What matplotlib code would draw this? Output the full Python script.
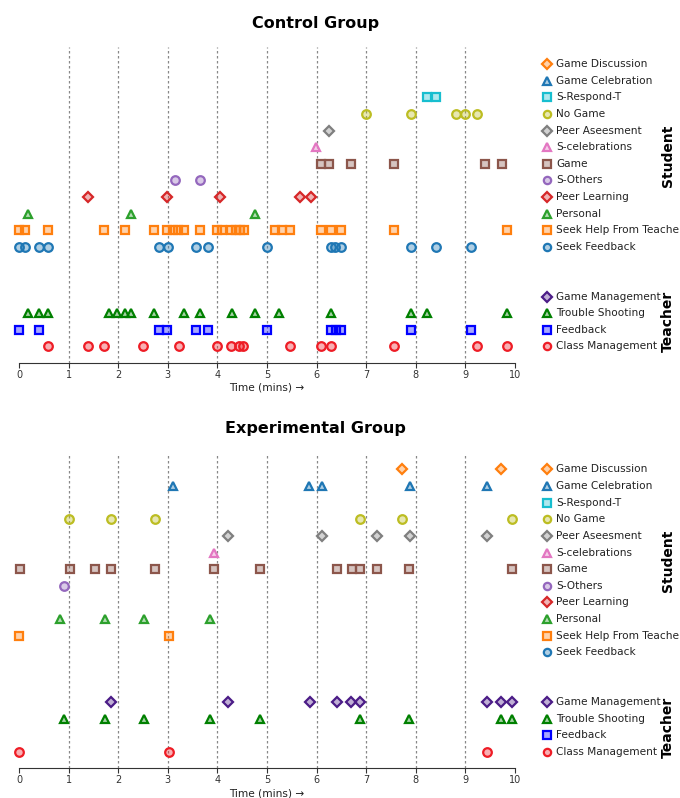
import matplotlib
matplotlib.use("Agg")
import matplotlib.pyplot as plt
import matplotlib.colors as mcolors
from matplotlib.transforms import blended_transform_factory

# ---------------- data (times in minutes) ----------------
student_categories = ["Game Discussion", "Game Celebration", "S-Respond-T", "No Game",
                      "Peer Aseesment", "S-celebrations", "Game", "S-Others",
                      "Peer Learning", "Personal", "Seek Help From Teacher", "Seek Feedback"]
teacher_categories = ["Game Management", "Trouble Shooting", "Feedback", "Class Management"]

# Control group - student
ctrl_game_discussion = []
ctrl_game_celebration = []
ctrl_s_respond_t = [8.22, 8.41]
ctrl_no_game = [6.99, 7.90, 8.82, 8.99, 9.23]
ctrl_peer_assessment = [6.26]
ctrl_s_celebrations = [5.99]
ctrl_game = [6.08, 6.25, 6.69, 7.57, 9.40, 9.73]
ctrl_s_others = [3.15, 3.65]
ctrl_peer_learning = [1.40, 2.98, 4.06, 5.66, 5.89]
ctrl_personal = [0.19, 2.25, 4.76]
ctrl_seek_help = [0.0, 0.13, 0.58, 1.71, 2.14, 2.73, 2.98, 3.10, 3.21, 3.33, 3.65,
                  3.99, 4.09, 4.27, 4.37, 4.46, 4.54, 5.17, 5.30, 5.46, 6.09, 6.30,
                  6.49, 7.57, 9.84]
ctrl_seek_feedback = [0.0, 0.12, 0.41, 0.58, 2.82, 3.00, 3.57, 3.82, 4.99, 6.29, 6.38,
                      6.49, 7.90, 8.40, 9.12]
# Control group - teacher
ctrl_game_management = []
ctrl_trouble_shooting = [0.19, 0.41, 0.58, 1.81, 1.98, 2.14, 2.26, 2.73, 3.32, 3.65,
                         4.29, 4.76, 5.24, 6.30, 7.91, 8.23, 9.84]
ctrl_feedback = [0.0, 0.40, 2.82, 2.99, 3.57, 3.82, 4.99, 6.29, 6.39, 6.49, 7.91, 9.12]
ctrl_class_management = [0.58, 1.40, 1.71, 2.49, 3.23, 3.99, 4.28, 4.43, 4.52, 5.46,
                         6.09, 6.30, 7.57, 9.24, 9.84]

# Experimental group - student
exp_game_discussion = [7.72, 9.72]
exp_game_celebration = [3.10, 5.85, 6.10, 7.88, 9.44]
exp_s_respond_t = []
exp_no_game = [1.01, 1.85, 2.74, 6.88, 7.72, 9.94]
exp_peer_assessment = [4.21, 6.10, 7.22, 7.88, 9.44]
exp_s_celebrations = [3.93]
exp_game = [0.03, 1.02, 1.54, 1.85, 2.74, 3.94, 4.86, 6.42, 6.71, 6.88, 7.22, 7.87, 9.93]
exp_s_others = [0.91]
exp_peer_learning = []
exp_personal = [0.82, 1.73, 2.52, 3.85]
exp_seek_help = [0.0, 3.02]
exp_seek_feedback = []
# Experimental group - teacher
exp_game_management = [1.86, 4.21, 5.86, 6.42, 6.69, 6.88, 9.44, 9.72, 9.94]
exp_trouble_shooting = [0.91, 1.73, 2.52, 3.85, 4.85, 6.88, 7.87, 9.72, 9.94]
exp_feedback = []
exp_class_management = [0.0, 3.02, 9.44]

x_ticks = [0, 1, 2, 3, 4, 5, 6, 7, 8, 9, 10]

# ---------------- styles ----------------
styles = {
    "Game Discussion": ("D", "tab:orange"),
    "Game Celebration": ("^", "tab:blue"),
    "S-Respond-T": ("s", "tab:cyan"),
    "No Game": ("o", "tab:olive"),
    "Peer Aseesment": ("D", "tab:gray"),
    "S-celebrations": ("^", "tab:pink"),
    "Game": ("s", "tab:brown"),
    "S-Others": ("o", "tab:purple"),
    "Peer Learning": ("D", "tab:red"),
    "Personal": ("^", "tab:green"),
    "Seek Help From Teacher": ("s", "tab:orange"),
    "Seek Feedback": ("o", "tab:blue"),
    "Game Management": ("D", "#4b1c87"),
    "Trouble Shooting": ("^", "green"),
    "Feedback": ("s", "blue"),
    "Class Management": ("o", "#ee1c25"),
}

# row positions (bottom = 0)
rows = {
    "Class Management": 0, "Feedback": 1, "Trouble Shooting": 2, "Game Management": 3,
    "Seek Feedback": 6, "Seek Help From Teacher": 7, "Personal": 8, "Peer Learning": 9,
    "S-Others": 10, "Game": 11, "S-celebrations": 12, "Peer Aseesment": 13,
    "No Game": 14, "S-Respond-T": 15, "Game Celebration": 16, "Game Discussion": 17,
}

control = {
    "Game Discussion": ctrl_game_discussion, "Game Celebration": ctrl_game_celebration,
    "S-Respond-T": ctrl_s_respond_t, "No Game": ctrl_no_game,
    "Peer Aseesment": ctrl_peer_assessment, "S-celebrations": ctrl_s_celebrations,
    "Game": ctrl_game, "S-Others": ctrl_s_others, "Peer Learning": ctrl_peer_learning,
    "Personal": ctrl_personal, "Seek Help From Teacher": ctrl_seek_help,
    "Seek Feedback": ctrl_seek_feedback, "Game Management": ctrl_game_management,
    "Trouble Shooting": ctrl_trouble_shooting, "Feedback": ctrl_feedback,
    "Class Management": ctrl_class_management,
}
experimental = {
    "Game Discussion": exp_game_discussion, "Game Celebration": exp_game_celebration,
    "S-Respond-T": exp_s_respond_t, "No Game": exp_no_game,
    "Peer Aseesment": exp_peer_assessment, "S-celebrations": exp_s_celebrations,
    "Game": exp_game, "S-Others": exp_s_others, "Peer Learning": exp_peer_learning,
    "Personal": exp_personal, "Seek Help From Teacher": exp_seek_help,
    "Seek Feedback": exp_seek_feedback, "Game Management": exp_game_management,
    "Trouble Shooting": exp_trouble_shooting, "Feedback": exp_feedback,
    "Class Management": exp_class_management,
}

fig = plt.figure(figsize=(6.8, 7.98), dpi=100)
ax1 = fig.add_axes([19 / 680, 0.545, 496 / 680, 0.3955])
ax2 = fig.add_axes([19 / 680, 0.0370, 496 / 680, 0.3955])


def mk_kwargs(name, size_scale=1.0):
    marker, color = styles[name]
    face = mcolors.to_rgba(color, 0.35)
    ms = 5.6 if marker == "D" else (6.4 if marker == "^" else 6.2)
    return dict(marker=marker, markersize=ms * size_scale, markeredgecolor=color,
                markerfacecolor=face, markeredgewidth=1.6, linestyle="none")


def draw(ax, data, title):
    ax.set_xlim(0, 10)
    ax.set_ylim(-1, 18)
    for v in x_ticks[1:-1]:
        ax.axvline(v, color="#888888", linestyle=(0, (2, 2)), linewidth=0.9, zorder=0)
    for name, times in data.items():
        y = rows[name]
        ax.plot(times, [y] * len(times), clip_on=False, zorder=3, **mk_kwargs(name))
    # right-hand labels
    tr = blended_transform_factory(ax.transAxes, ax.transData)
    for name in student_categories + teacher_categories:
        y = rows[name]
        ax.plot([1.0645], [y], transform=tr, clip_on=False, **mk_kwargs(name, 0.85))
        ax.text(1.083, y, name, transform=tr, va="center", ha="left", fontsize=7.6,
                color="#222222")
    ax.text(1.308, 11.5, "Student", transform=tr, rotation=90, va="center", ha="center",
            fontsize=10, fontweight="bold")
    ax.text(1.308, 1.5, "Teacher", transform=tr, rotation=90, va="center", ha="center",
            fontsize=10, fontweight="bold")
    for s in ["left", "right", "top"]:
        ax.spines[s].set_visible(False)
    ax.spines["bottom"].set_color("#333333")
    ax.set_yticks([])
    ax.set_xticks(x_ticks)
    ax.tick_params(axis="x", labelsize=7, colors="#333333", length=3.5, pad=1.5)
    ax.set_xlabel("Time (mins) \u2192", fontsize=7.6, color="#222222", labelpad=2)
    ax.set_title(title, fontsize=11.5, fontweight="bold", x=0.597, pad=14)


draw(ax1, control, "Control Group")
draw(ax2, experimental, "Experimental Group")

fig.savefig("out.png", dpi=100)
